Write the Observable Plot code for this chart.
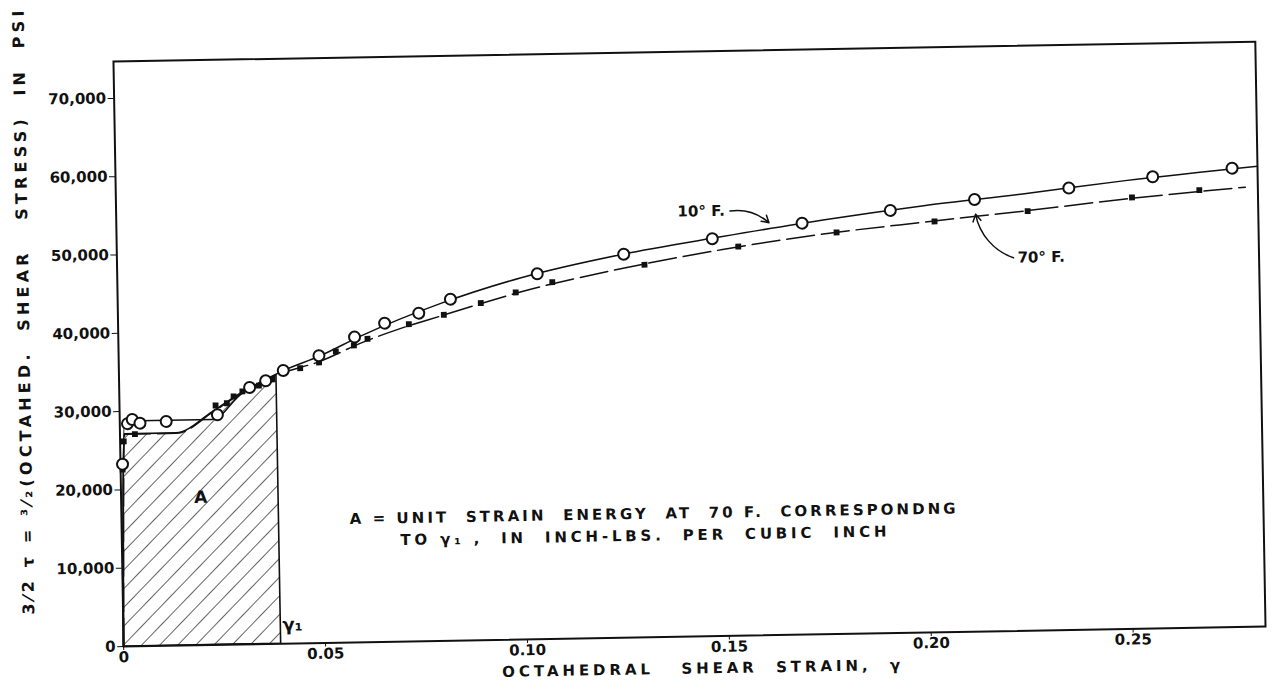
<!DOCTYPE html>
<html>
<head>
<meta charset="utf-8">
<script src="https://cdn.jsdelivr.net/npm/d3@7"></script>
<script src="https://cdn.jsdelivr.net/npm/@observablehq/plot@0.6"></script>
<style>
  html, body { margin: 0; padding: 0; background: #fff; }
  #chart { width: 1275px; height: 690px; overflow: hidden; background: #fff; }
  /* the drawing sits slightly askew on its sheet */
  #chart svg { display: block; transform: rotate(-1deg); transform-origin: 637.5px 345px; }
  #chart svg text { white-space: pre; font-weight: bold; }
</style>
</head>
<body>
<div id="chart"></div>
<script>
// Open circles: 10 °F test (octahedral shear strain, 3/2 × octahedral shear stress in psi)
const strain10 = [0.0005, 0.0019, 0.0031, 0.0050, 0.0115, 0.0242, 0.0323, 0.0363, 0.0407, 0.0496,
                  0.0585, 0.0660, 0.0745, 0.0824, 0.1040, 0.1255, 0.1475, 0.1698, 0.1917, 0.2126,
                  0.2360, 0.2568, 0.2765];
const stress10 = [23280, 28440, 28970, 28480, 28640, 29380, 32790, 33610, 34890, 36690,
                  38990, 40700, 41900, 43620, 46670, 48970, 50750, 52540, 53970, 55180,
                  56420, 57680, 58600];

// Solid points: 70 °F test
const strain70 = [0.0005, 0.0009, 0.0037, 0.0238, 0.0266, 0.0283, 0.0305, 0.0346, 0.0380, 0.0449,
                  0.0496, 0.0538, 0.0583, 0.0617, 0.0720, 0.0807, 0.0899, 0.0986, 0.1077, 0.1306,
                  0.1539, 0.1783, 0.2026, 0.2257, 0.2516, 0.2683];
const stress70 = [22600, 26180, 27090, 30570, 30840, 31680, 32300, 33020, 33760, 35140,
                  35830, 37200, 37930, 38740, 40520, 41640, 43050, 44330, 45560, 47580,
                  49700, 51270, 52460, 53570, 55080, 55870];

// Faired curves through each test
const fair10Strain = [0, 0.0012, 0.0230, 0.0300, 0.0400, 0.0500, 0.0600, 0.0800, 0.1000, 0.1250,
                      0.1500, 0.1750, 0.2000, 0.2250, 0.2500, 0.2828];
const fair10Stress = [0, 28800, 28800, 31900, 34700, 36700, 39100, 43100, 46200, 48950,
                      51000, 52900, 54500, 55800, 57250, 58800];
const fair70Strain = [0, 0.0012, 0.0140, 0.0230, 0.0300, 0.0390, 0.0500, 0.0600, 0.0700, 0.0800,
                      0.0900, 0.1000, 0.1250, 0.1500, 0.1750, 0.2000, 0.2250, 0.2500, 0.2797];
const fair70Stress = [0, 27100, 27100, 29700, 32000, 34300, 36000, 38200, 40000, 41500,
                      43000, 44400, 47150, 49350, 51100, 52400, 53600, 54900, 56150];

// Strain γ1 bounding the energy area A
const gamma1 = 0.039;

// Axis ticks
const xTicks = [0, 0.05, 0.10, 0.15, 0.20, 0.25];
const xTickLabels = ["0", "0.05", "0.10", "0.15", "0.20", "0.25"];
const yTicks = [0, 10000, 20000, 30000, 40000, 50000, 60000, 70000];
const yTickLabels = ["0", "10,000", "20,000", "30,000", "40,000", "50,000", "60,000", "70,000"];

// Lettering
const yTitle = "3⁄2 τ = ³⁄₂(OCTAHED.  SHEAR   STRESS)  IN  PSI";
const xTitle = "OCTAHEDRAL   SHEAR  STRAIN,  γ";
const note1 = "A = UNIT  STRAIN  ENERGY  AT  70 F.  CORRESPONDNG";
const note2 = "TO γ₁ ,  IN  INCH-LBS.  PER  CUBIC  INCH";
const label10 = "10° F.";
const label70 = "70° F.";

const zip = (xs, ys) => xs.map((x, i) => ({x, y: ys[i]}));
const pts10 = zip(strain10, stress10);
const pts70 = zip(strain70, stress70);
const fair10 = zip(fair10Strain, fair10Stress);
const fair70 = zip(fair70Strain, fair70Stress);
const areaA = fair70.filter(d => d.x <= gamma1);

const ink = "#111";

const chart = Plot.plot({
  width: 1275,
  height: 690,
  marginLeft: 118,
  marginRight: 15,
  marginTop: 52,
  marginBottom: 53,
  style: {fontFamily: "'DejaVu Sans', sans-serif", fontSize: "15px", background: "#fff", color: ink},
  x: {domain: [0, 0.2828], ticks: xTicks, tickFormat: d => xTickLabels[xTicks.indexOf(d)],
      tickSize: 4, tickPadding: 1, label: null},
  y: {domain: [0, 74700], ticks: yTicks, tickFormat: d => yTickLabels[yTicks.indexOf(d)],
      tickSize: 6, tickPadding: 2, label: null},
  marks: [
    // hatched area A under the 70 °F curve up to γ1
    Plot.areaY(areaA, {x: "x", y: "y", curve: "monotone-x", fill: "url(#hatch)",
                       stroke: ink, strokeWidth: 1.6}),
    Plot.line(fair10, {x: "x", y: "y", curve: "monotone-x", stroke: ink, strokeWidth: 1.5}),
    Plot.line(fair70, {x: "x", y: "y", curve: "monotone-x", stroke: ink, strokeWidth: 1.5,
                       strokeDasharray: "28,7"}),
    Plot.frame({stroke: ink, strokeWidth: 2}),
    Plot.dot(pts70, {x: "x", y: "y", symbol: "square", r: 3.3, fill: ink, stroke: "none"}),
    Plot.dot(pts10, {x: "x", y: "y", r: 5.5, fill: "#fff", stroke: ink, strokeWidth: 2}),
    // curve labels and their arrows
    Plot.text([{x: 0.1390, y: 54270, t: label10}], {x: "x", y: "y", text: "t", textAnchor: "start",
               fontSize: 15, fill: ink}),
    Plot.arrow([{x1: 0.1520, y1: 54250, x2: 0.1616, y2: 52660}],
               {x1: "x1", y1: "y1", x2: "x2", y2: "y2", bend: 25, headLength: 8, stroke: ink, strokeWidth: 1.5}),
    Plot.text([{x: 0.2230, y: 47640, t: label70}], {x: "x", y: "y", text: "t", textAnchor: "start",
               fontSize: 15, fill: ink}),
    Plot.arrow([{x1: 0.2220, y1: 47650, x2: 0.2128, y2: 53280}],
               {x1: "x1", y1: "y1", x2: "x2", y2: "y2", bend: 30, headLength: 8, stroke: ink, strokeWidth: 1.5}),
    // area annotations
    Plot.text([{x: 0.0197, y: 18860, t: "A"}], {x: "x", y: "y", text: "t", fontSize: 17, fill: ink}),
    Plot.text([{x: 0.0419, y: 2390, t: "γ₁"}], {x: "x", y: "y", text: "t", fontSize: 18, fill: ink}),
    Plot.text([{x: 0.0565, y: 15750, t: note1}], {x: "x", y: "y", text: "t", textAnchor: "start",
               fontSize: 15, fill: ink}),
    Plot.text([{x: 0.0690, y: 12950, t: note2}], {x: "x", y: "y", text: "t", textAnchor: "start",
               fontSize: 15, fill: ink}),
    // axis titles
    Plot.text([xTitle], {frameAnchor: "bottom", dx: 6, dy: 37, fontSize: 15, fill: ink}),
    Plot.text([yTitle], {frameAnchor: "left", dx: -94, dy: 259, rotate: -90, textAnchor: "start",
                         fontSize: 16, fill: ink})
  ]
});

// diagonal hatch pattern used by area A
const defs = d3.select(chart).insert("defs", ":first-child");
const pat = defs.append("pattern")
  .attr("id", "hatch")
  .attr("patternUnits", "userSpaceOnUse")
  .attr("width", 13)
  .attr("height", 13)
  .attr("patternTransform", "rotate(45)");
pat.append("rect").attr("width", 13).attr("height", 13).attr("fill", "#fff");
pat.append("line").attr("x1", 0).attr("y1", 0).attr("x2", 0).attr("y2", 13)
  .attr("stroke", ink).attr("stroke-width", 1.3);

// spread the hand lettering to its drawn lengths
const spans = new Map([[yTitle, 604], [xTitle, 398], [note1, 606], [note2, 486]]);
d3.select(chart).selectAll("text").each(function () {
  const len = spans.get(this.textContent);
  if (len) d3.select(this).attr("textLength", len).attr("lengthAdjust", "spacing");
});

document.getElementById("chart").appendChild(chart);
</script>
</body>
</html>
